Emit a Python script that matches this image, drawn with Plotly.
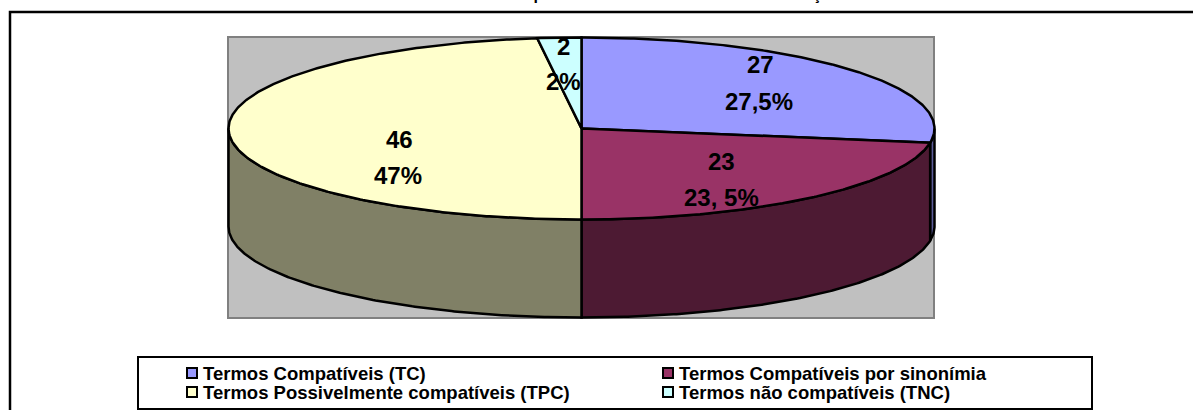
import numpy as np
import plotly.graph_objects as go

#chart data
categories = ["Termos Compatíveis (TC)", "Termos Compatíveis por sinonímia",
              "Termos Possivelmente compatíveis (TPC)", "Termos não compatíveis (TNC)"]
counts = [27, 23, 46, 2]
percent_labels = ["27,5%", "23, 5%", "47%", "2%"]
#share of the circle each slice really takes in the drawing
slice_shares = [27.5, 22.5, 48, 2]

top_colors = ["#9999FF", "#993366", "#FFFFCC", "#CCFFFF"]
side_colors = ["#5C5C99", "#4D1A33", "#808066", "#668080"]

#pie geometry in page pixels
CX, CY, RX, RY, DEPTH = 581.5, 128.5, 353, 91, 98
FONT = "Liberation Sans"

#label centres for count and percent, same order as categories
count_pos = [(760, 64), (721, 161), (399, 139), (563, 46)]
percent_pos = [(759, 101), (721, 197), (398, 175), (563, 81)]
#legend rows: marker x, text x, y
legend_pos = [(192, 201, 373), (668, 677, 373), (192, 201, 392), (668, 677, 392)]


def arc(a0, a1, dy=0):
    t = np.radians(np.linspace(a0, a1, max(int(abs(a1 - a0)) * 2, 2)))
    return CX + RX * np.sin(t), CY + dy - RY * np.cos(t)


fig = go.Figure()

#side walls first, only the front half of the pie (90 to 270 degrees) shows
edges = np.cumsum([0] + slice_shares) * 3.6
for i in range(len(counts)):
    a0, a1 = max(edges[i], 90), min(edges[i + 1], 270)
    if a1 <= a0:
        continue
    x_top, y_top = arc(a0, a1)
    x_bot, y_bot = arc(a1, a0, DEPTH)
    fig.add_trace(go.Scatter(
        x=np.r_[x_top, x_bot, x_top[0]], y=np.r_[y_top, y_bot, y_top[0]],
        mode="lines", fill="toself", fillcolor=side_colors[i],
        line=dict(color="black", width=2.5), hoverinfo="skip", showlegend=False))

#top face
for i in range(len(counts)):
    x_arc, y_arc = arc(edges[i], edges[i + 1])
    fig.add_trace(go.Scatter(
        x=np.r_[CX, x_arc, CX], y=np.r_[CY, y_arc, CY],
        mode="lines", fill="toself", fillcolor=top_colors[i],
        line=dict(color="black", width=2.5), name=categories[i],
        hoverinfo="name", showlegend=False))

#legend markers
for i in range(len(counts)):
    fig.add_trace(go.Scatter(
        x=[legend_pos[i][0]], y=[legend_pos[i][2]], mode="markers",
        marker=dict(symbol="square", size=10, color=top_colors[i],
                    line=dict(color="black", width=2)),
        hoverinfo="skip", showlegend=False))

annotations = []
for i in range(len(counts)):
    for txt, pos in ((str(counts[i]), count_pos[i]), (percent_labels[i], percent_pos[i])):
        annotations.append(dict(x=pos[0], y=pos[1], text=txt, showarrow=False,
                                font=dict(family=FONT, size=24, color="black", weight=700)))
    annotations.append(dict(x=legend_pos[i][1], y=legend_pos[i][2], text=categories[i],
                            showarrow=False, xanchor="left",
                            font=dict(family=FONT, size=18.5, color="black", weight=700)))

#title is cut off by the top of the picture, only descenders show
annotations.append(dict(x=669.5, y=5, yanchor="bottom", showarrow=False,
                        text="Compatibilidade dos termos na classificação",
                        font=dict(family=FONT, size=16, color="black", weight=700)))

shapes = [
    #outer frame, runs past the right and bottom of the picture
    dict(type="rect", x0=10, y0=12, x1=1300, y1=600, line=dict(color="black", width=2.5), layer="below"),
    #grey plot area
    dict(type="rect", x0=228, y0=37, x1=934, y1=318, fillcolor="#C0C0C0",
         line=dict(color="#808080", width=2), layer="below"),
    #legend box
    dict(type="rect", x0=138, y0=357, x1=1092, y1=409, fillcolor="white",
         line=dict(color="black", width=2), layer="below"),
]

fig.update_layout(
    width=1193, height=410,
    margin=dict(l=0, r=0, t=0, b=0),
    paper_bgcolor="white", plot_bgcolor="white",
    xaxis=dict(range=[0, 1193], visible=False, fixedrange=True),
    yaxis=dict(range=[410, 0], visible=False, fixedrange=True),
    shapes=shapes, annotations=annotations, showlegend=False,
)

fig.write_html("out.html", config=dict(displayModeBar=False),
               post_script="document.body.style.margin='0';")
